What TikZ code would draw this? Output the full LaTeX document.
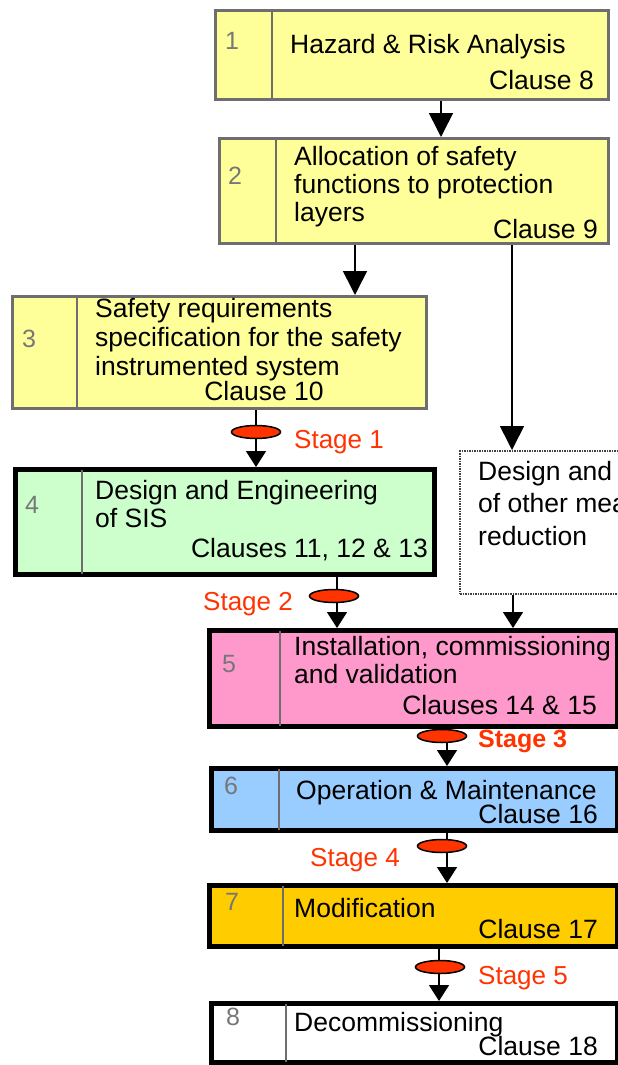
\documentclass[tikz,border=0pt]{standalone}
\usepackage{fontspec}
\setmainfont{Liberation Sans}
\usetikzlibrary{arrows.meta,shapes.geometric}
\definecolor{cyellow}{HTML}{FFFF99}
\definecolor{cgreen}{HTML}{CCFFCC}
\definecolor{cpink}{HTML}{FF99CC}
\definecolor{cblue}{HTML}{99CCFF}
\definecolor{corange}{HTML}{FFCC00}
\definecolor{cred}{HTML}{FF3300}
\definecolor{cgrayb}{HTML}{6E6E6E}
\definecolor{cnum}{HTML}{777777}
\begin{document}
\begin{tikzpicture}[x=1pt,y=-1pt,
  graybox/.style={draw=cgrayb,line width=3pt,fill=cyellow,inner sep=0pt,anchor=north west},
  blackbox/.style={draw=black,line width=4.5pt,inner sep=0pt,anchor=north west},
  dotbox/.style={draw=black!75,line width=2pt,dash pattern=on 1.5pt off 1pt,inner sep=0pt,anchor=north west},
  divider/.style={draw=cgrayb,line width=2.5pt},
  txt/.style={inner sep=0pt,font=\fontsize{26.5}{28}\selectfont,align=left},
  num/.style={inner sep=0pt,font=\fontsize{25}{28}\selectfont,text=cnum},
  stagelbl/.style={inner sep=0pt,font=\fontsize{26}{28}\selectfont,text=cred},
  bigarr/.style={draw=black,line width=1.6pt,-{Triangle[width=24pt,length=24pt]}},
  smallarr/.style={draw=black,line width=1.6pt,-{Triangle[width=20pt,length=16pt]}},
  stage/.style={ellipse,draw=black,line width=1.5pt,fill=cred,minimum width=49pt,minimum height=13pt,inner sep=0pt}
]
\useasboundingbox (0,0) rectangle (618,1065);
\clip (0,0) rectangle (618,1065);
\fill[white] (0,0) rectangle (618,1065);

% boxes
\node[graybox,minimum width=393pt,minimum height=89pt] (b1) at (214,9) {};
\node[graybox,minimum width=389pt,minimum height=105pt] (b2) at (218,137) {};
\node[graybox,minimum width=414pt,minimum height=112pt] (b3) at (10.5,295) {};
\node[blackbox,fill=cgreen,minimum width=419pt,minimum height=105pt] (b4) at (13,467) {};
\node[dotbox,minimum width=190pt,minimum height=143pt] (bd) at (459,450) {};
\node[blackbox,fill=cpink,minimum width=408pt,minimum height=96pt] (b5) at (207,628) {};
\node[blackbox,fill=cblue,minimum width=406pt,minimum height=62pt] (b6) at (209,766) {};
\node[blackbox,fill=corange,minimum width=408pt,minimum height=61pt] (b7) at (207,883) {};
\node[blackbox,fill=white,minimum width=406pt,minimum height=59pt] (b8) at (209,1001) {};

% dividers
\draw[divider] ([xshift=58pt]b1.north west) -- ([xshift=58pt]b1.south west);
\draw[divider] ([xshift=58pt]b2.north west) -- ([xshift=58pt]b2.south west);
\draw[divider] ([xshift=66.5pt]b3.north west) -- ([xshift=66.5pt]b3.south west);
\draw[divider] ([xshift=69pt,yshift=-2.5pt]b4.north west) -- ([xshift=69pt,yshift=2.5pt]b4.south west);
\draw[divider] ([xshift=73pt,yshift=-2.5pt]b5.north west) -- ([xshift=73pt,yshift=2.5pt]b5.south west);
\draw[divider] ([xshift=70pt,yshift=-2.5pt]b6.north west) -- ([xshift=70pt,yshift=2.5pt]b6.south west);
\draw[divider] ([xshift=76pt,yshift=-2.5pt]b7.north west) -- ([xshift=76pt,yshift=2.5pt]b7.south west);
\draw[divider] ([xshift=77pt,yshift=-2.5pt]b8.north west) -- ([xshift=77pt,yshift=2.5pt]b8.south west);

% numbers
\node[num,anchor=base west] (n1) at (225,50) {1};
\node[num,anchor=base west] (n2) at (228,184) {2};
\node[num,anchor=base west] (n3) at (22,347) {3};
\node[num,anchor=base west] (n4) at (25,513) {4};
\node[num,anchor=base west] (n5) at (222,672) {5};
\node[num,anchor=base west] (n6) at (224,794) {6};
\node[num,anchor=base west] (n7) at (225,910) {7};
\node[num,anchor=base west] (n8) at (226,1025) {8};

% texts (base anchor = baseline of last line)
\node[txt,anchor=base west] (t1) at (290,54) {Hazard \& Risk Analysis};
\node[txt,anchor=base east] (c1) at (594,89) {Clause 8};
\node[txt,anchor=base west] (t2) at (294,221) {Allocation of safety\\functions to protection\\layers};
\node[txt,anchor=base east] (c2) at (598,238) {Clause 9};
\node[txt,anchor=base west,font=\fontsize{26.5}{29}\selectfont] (t3) at (95,375) {Safety requirements\\specification for the safety\\instrumented system};
\node[txt,anchor=base] (c3) at (264,400) {Clause 10};
\node[txt,anchor=base west] (t4) at (95,527) {Design and Engineering\\of SIS};
\node[txt,anchor=base east] (c4) at (428,557) {Clauses 11, 12 \& 13};
\node[txt,anchor=base west,font=\fontsize{26.5}{32.5}\selectfont] (td) at (478,545) {Design and\\of other mea\\reduction};
\node[txt,anchor=base west] (t5) at (294,683) {Installation, commissioning\\and validation};
\node[txt,anchor=base east] (c5) at (597,714) {Clauses 14 \& 15};
\node[txt,anchor=base west] (t6) at (296,799) {Operation \& Maintenance};
\node[txt,anchor=base east] (c6) at (598,823) {Clause 16};
\node[txt,anchor=base west] (t7) at (294,917) {Modification};
\node[txt,anchor=base east] (c7) at (598,938) {Clause 17};
\node[txt,anchor=base west] (t8) at (294,1031) {Decommissioning};
\node[txt,anchor=base east] (c8) at (598,1055) {Clause 18};

% stage labels
\node[stagelbl,anchor=base west] (l1) at (294,448) {Stage 1};
\node[stagelbl,anchor=base west] (l2) at (203,610) {Stage 2};
\node[stagelbl,anchor=base west,font=\fontsize{25}{28}\selectfont\bfseries] (l3) at (478,747) {Stage 3};
\node[stagelbl,anchor=base west] (l4) at (310,866) {Stage 4};
\node[stagelbl,anchor=base west] (l5) at (478,984) {Stage 5};

% connector x positions
\coordinate (x12) at (441,0);
\coordinate (x23) at (355,0);
\coordinate (x2d) at (512,0);
\coordinate (x34) at (256,0);
\coordinate (x45) at (337,0);
\coordinate (xd5) at (513,0);
\coordinate (x56) at (447,0);
\coordinate (x78) at (439,0);

\draw[bigarr] (b1.south -| x12) -- (b2.north -| x12);
\draw[bigarr] (b2.south -| x23) -- (b3.north -| x23);
\draw[bigarr] (b2.south -| x2d) -- (bd.north -| x2d);
\draw[smallarr] (b3.south -| x34) -- (b4.north -| x34);
\draw[smallarr] (b4.south -| x45) -- (b5.north -| x45);
\draw[smallarr] (bd.south -| xd5) -- (b5.north -| xd5);
\draw[smallarr] (b5.south -| x56) -- (b6.north -| x56);
\draw[smallarr] (b6.south -| x56) -- (b7.north -| x56);
\draw[smallarr] (b7.south -| x78) -- (b8.north -| x78);

% stage ellipses
\node[stage] (s1) at (256,432) {};
\node[stage] (s2) at (334,596) {};
\node[stage] (s3) at (442,736) {};
\node[stage] (s4) at (442,846) {};
\node[stage] (s5) at (440,967) {};
\end{tikzpicture}
\end{document}
